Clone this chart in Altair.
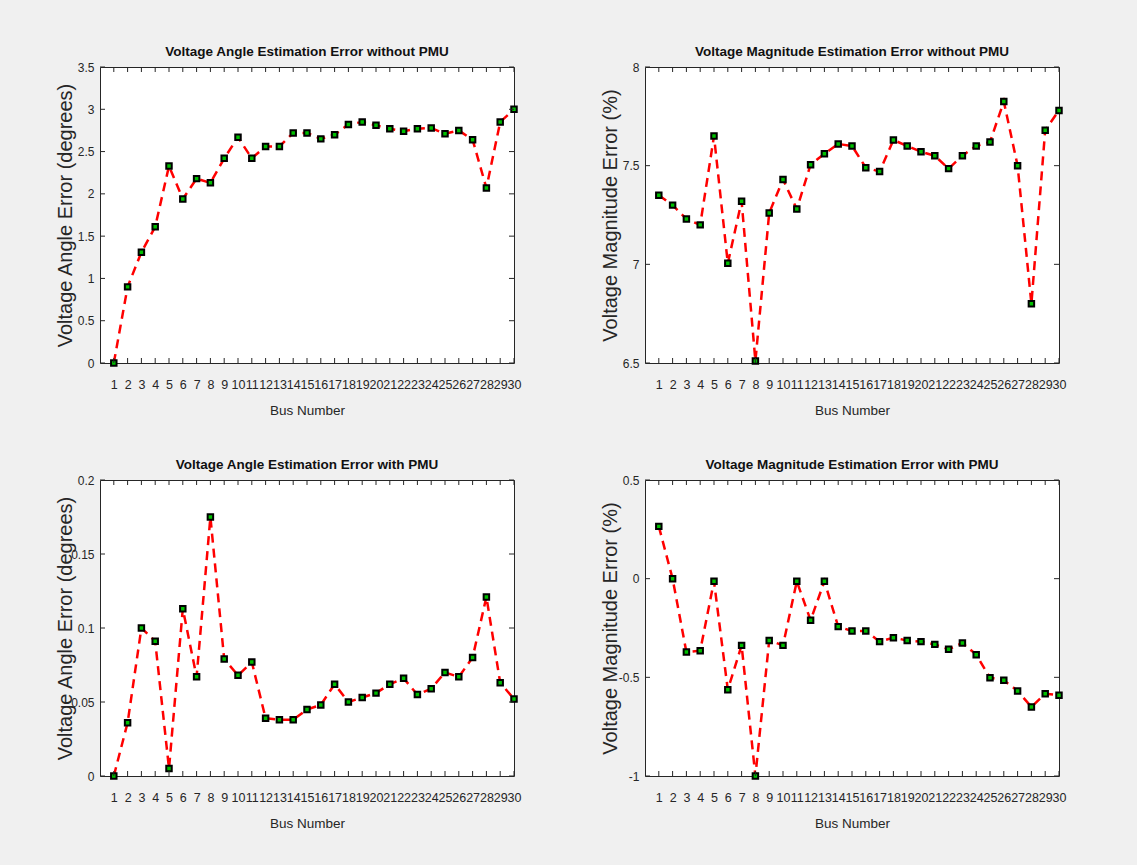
import altair as alt
import pandas as pd

bus = list(range(1, 31))

angle_no_pmu = [0.00, 0.90, 1.31, 1.61, 2.33, 1.94, 2.18, 2.13, 2.42, 2.67,
                2.42, 2.56, 2.56, 2.72, 2.72, 2.65, 2.70, 2.82, 2.85, 2.81,
                2.77, 2.74, 2.77, 2.78, 2.71, 2.75, 2.64, 2.07, 2.85, 3.00]
mag_no_pmu = [7.35, 7.30, 7.23, 7.20, 7.65, 7.005, 7.32, 6.51, 7.26, 7.43,
              7.28, 7.505, 7.56, 7.61, 7.60, 7.49, 7.47, 7.63, 7.60, 7.57,
              7.55, 7.485, 7.55, 7.60, 7.62, 7.825, 7.50, 6.80, 7.68, 7.78]
angle_pmu = [0.000, 0.036, 0.100, 0.091, 0.005, 0.113, 0.067, 0.175, 0.079, 0.068,
             0.077, 0.039, 0.038, 0.038, 0.045, 0.048, 0.062, 0.050, 0.053, 0.056,
             0.062, 0.066, 0.055, 0.059, 0.070, 0.067, 0.080, 0.121, 0.063, 0.052]
mag_pmu = [0.265, 0.0, -0.372, -0.365, -0.013, -0.563, -0.338, -1.0, -0.313, -0.338,
           -0.013, -0.211, -0.013, -0.243, -0.265, -0.265, -0.319, -0.299, -0.313, -0.319,
           -0.333, -0.358, -0.326, -0.385, -0.502, -0.515, -0.569, -0.650, -0.583, -0.591]

yticks1 = [0, 0.5, 1, 1.5, 2, 2.5, 3, 3.5]
yticks2 = [6.5, 7, 7.5, 8]
yticks3 = [0, 0.05, 0.1, 0.15, 0.2]
yticks4 = [-1, -0.5, 0, 0.5]

titles = ["Voltage Angle Estimation Error without PMU",
          "Voltage Magnitude Estimation Error without PMU",
          "Voltage Angle Estimation Error with PMU",
          "Voltage Magnitude Estimation Error with PMU"]
ytitles = ["Voltage Angle Error (degrees)", "Voltage Magnitude Error (%)",
           "Voltage Angle Error (degrees)", "Voltage Magnitude Error (%)"]
xtitle = "Bus Number"

W, H = 414, 296
FONT = "Liberation Sans"
AX = "#262626"


def panel(values, ydom, yticks, title, ytitle):
    df = pd.DataFrame({"bus": bus, "v": values})
    x = alt.X("bus:Q", scale=alt.Scale(domain=[0, 30], nice=False, zero=False),
              axis=alt.Axis(values=bus, title=xtitle, grid=False, ticks=False, tickSize=0,
                            domain=False, labelOverlap=False, labelFlush=False,
                            labelFont=FONT, labelFontSize=12.5, labelColor=AX,
                            labelPadding=15, titleFont=FONT, titleFontSize=13.5,
                            titleFontWeight="normal", titleColor=AX, titlePadding=13))
    y = alt.Y("v:Q", scale=alt.Scale(domain=ydom, nice=False, zero=False),
              axis=alt.Axis(values=yticks, title=ytitle, grid=False, ticks=False, tickSize=0,
                            domain=False, labelOverlap=False, labelFlush=False,
                            labelFont=FONT, labelFontSize=12, labelColor=AX,
                            labelPadding=6, labelExpr="'' + datum.value",
                            titleFont=FONT, titleFontSize=20, titleFontWeight="normal",
                            titleColor=AX, titleX=-29, titleY=H / 2,
                            titleBaseline="alphabetic", titleAngle=270))
    line = alt.Chart(df).mark_line(color="#ff0000", strokeWidth=2.5,
                                   strokeDash=[9, 6]).encode(x=x, y=y)
    pts = alt.Chart(df).mark_square(size=30, fill="#00c000", fillOpacity=1,
                                    stroke="#000000", strokeWidth=2,
                                    opacity=1).encode(x=x, y=y)
    xt = pd.DataFrame({"bus": bus})
    yt = pd.DataFrame({"v": yticks})
    bt = alt.Chart(xt).mark_rule(color=AX, strokeWidth=1).encode(
        x=x, y=alt.value(H), y2=alt.value(H - 5))
    tt = alt.Chart(xt).mark_rule(color=AX, strokeWidth=1).encode(
        x=x, y=alt.value(0), y2=alt.value(5))
    lt = alt.Chart(yt).mark_rule(color=AX, strokeWidth=1).encode(
        y=y, x=alt.value(0), x2=alt.value(5))
    rt = alt.Chart(yt).mark_rule(color=AX, strokeWidth=1).encode(
        y=y, x=alt.value(W), x2=alt.value(W - 5))
    return alt.layer(line, pts, bt, tt, lt, rt).properties(
        width=W, height=H,
        title=alt.TitleParams(title, font=FONT, fontSize=13.5, fontWeight="bold",
                              color="#111111", offset=3, frame="group", anchor="middle"))


p1 = panel(angle_no_pmu, [0, 3.5], yticks1, titles[0], ytitles[0])
p2 = panel(mag_no_pmu, [6.5, 8], yticks2, titles[1], ytitles[1])
p3 = panel(angle_pmu, [0, 0.2], yticks3, titles[2], ytitles[2])
p4 = panel(mag_pmu, [-1, 0.5], yticks4, titles[3], ytitles[3])

chart = alt.concat(p1, p2, p3, p4, columns=2, bounds="flush",
                   spacing={"row": 117, "column": 131}).properties(
    background="#f0f0f0",
    padding={"left": 54, "top": 44, "right": 70, "bottom": 38},
).configure_view(stroke=AX, strokeWidth=1, fill="white")

chart.save("out.html", embed_options={"renderer": "svg", "actions": False})
